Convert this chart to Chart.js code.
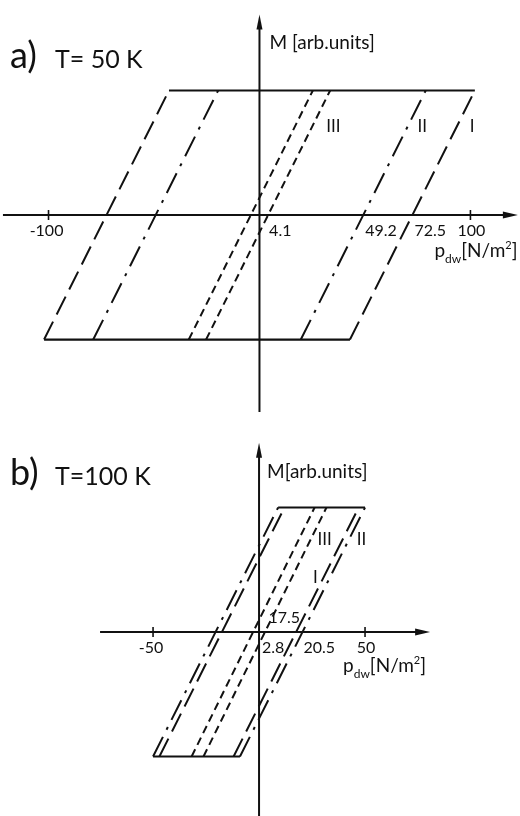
<!DOCTYPE html>
<html>
<head>
<meta charset="utf-8">
<script src="https://cdn.jsdelivr.net/npm/chart.js@4.4.1/dist/chart.umd.min.js"></script>
<style>
  html, body { margin: 0; padding: 0; background: #fff; }
  #wrap { position: relative; width: 520px; height: 816px; }
  canvas { position: absolute; left: 0; }
</style>
</head>
<body>
<div id="wrap">
  <canvas id="chartA" width="520" height="412" style="top:0"></canvas>
  <canvas id="chartB" width="520" height="404" style="top:412px"></canvas>
</div>
<script>
// loops I, II, III
const loopNames = ["I", "II", "III"];
// coercive pressure p_c [N/m^2]
const coercA = [72.5, 49.2, 4.1];   // T = 50 K
const coercB = [17.5, 20.5, 2.8];   // T = 100 K
// half width (in p) of the switching branch [N/m^2]
const branchA = [29.6, 29.6, 29.4];
const branchB = [29.5, 29.5, 29.0];
const mSat = 1;
const ticksA = [-100, 100];
const ticksB = [-50, 50];

const ink = "#111";
const dashes = [[20, 8], [22, 8, 3, 8], [8, 5]];

function loopDatasets(coerc, branch) {
  let sets = [];
  coerc.forEach((pc, i) => {
    let w = branch[i];
    sets.push({
      label: loopNames[i],
      data: [
        {x: -pc - w, y: -mSat}, {x: -pc + w, y: mSat},
        {x: 0, y: null},
        {x: pc - w, y: -mSat}, {x: pc + w, y: mSat}
      ],
      borderColor: ink,
      borderWidth: 2,
      borderDash: dashes[i],
      borderCapStyle: "butt",
      showLine: true,
      spanGaps: false,
      pointRadius: 0
    });
  });
  // saturation lines (solid)
  let topL = Math.min(...coerc.map((pc, i) => -pc + branch[i]));
  let topR = Math.max(...coerc.map((pc, i) => pc + branch[i]));
  sets.push({
    label: "sat",
    data: [
      {x: topL, y: mSat}, {x: topR, y: mSat},
      {x: 0, y: null},
      {x: -topR, y: -mSat}, {x: -topL, y: -mSat}
    ],
    borderColor: ink,
    borderWidth: 2.2,
    showLine: true,
    spanGaps: false,
    pointRadius: 0
  });
  return sets;
}

const framePlugin = {
  id: "frame",
  afterDraw(chart, args, o) {
    const ctx = chart.ctx;
    const xs = chart.scales.x, ys = chart.scales.y;
    const X = v => xs.getPixelForValue(v);
    const Y = v => ys.getPixelForValue(v);
    const x0 = X(0), y0 = Y(0);
    ctx.save();
    ctx.strokeStyle = ink;
    ctx.fillStyle = ink;
    ctx.lineWidth = 2;

    // x axis with arrow
    let xe = X(o.xAxis[1]);
    ctx.beginPath();
    ctx.moveTo(X(o.xAxis[0]), y0);
    ctx.lineTo(xe - 8, y0);
    ctx.stroke();
    ctx.beginPath();
    ctx.moveTo(xe, y0);
    ctx.lineTo(xe - 15, y0 - 3.5);
    ctx.lineTo(xe - 15, y0 + 3.5);
    ctx.closePath();
    ctx.fill();

    // y axis with arrow
    let ye = Y(o.yAxis[1]);
    ctx.beginPath();
    ctx.moveTo(x0, Y(o.yAxis[0]));
    ctx.lineTo(x0, ye + 8);
    ctx.stroke();
    ctx.beginPath();
    ctx.moveTo(x0, ye);
    ctx.lineTo(x0 - 3, ye + 15);
    ctx.lineTo(x0 + 3, ye + 15);
    ctx.closePath();
    ctx.fill();

    // ticks
    ctx.font = "16px Lato";
    ctx.textBaseline = "middle";
    ctx.textAlign = "center";
    ctx.lineWidth = 1.6;
    o.ticks.forEach(t => {
      ctx.beginPath();
      ctx.moveTo(X(t), y0 - 5);
      ctx.lineTo(X(t), y0 + 5);
      ctx.stroke();
      ctx.fillText(t < 0 ? "-" + Math.abs(t) : String(t), X(t) + (t < 0 ? -2 : 1), y0 + 16);
    });

    // coercive pressure labels
    o.coerc.forEach((pc, i) => {
      let p = o.coercPos[i];
      ctx.textAlign = p[2];
      ctx.fillText(String(pc), X(pc) + p[0], y0 + p[1]);
    });

    // loop numbers next to the rising branches
    ctx.font = "17px Lato";
    o.roman.forEach((r, i) => {
      let xb = o.coerc[i] + r[0] * o.branch[i];
      ctx.textAlign = r[2];
      ctx.fillText(loopNames[i], X(xb) + r[1], Y(r[0]));
    });

    // axis titles
    ctx.textBaseline = "alphabetic";
    ctx.textAlign = "left";
    ctx.font = "19px Lato";
    ctx.fillText(o.mTitle, x0 + o.mPos[0], y0 + o.mPos[1]);

    let px = x0 + o.pPos[0], py = y0 + o.pPos[1];
    ctx.font = "19px Lato";
    ctx.fillText("p", px, py);
    px += ctx.measureText("p").width;
    ctx.font = "12px Lato";
    ctx.fillText("dw", px, py + 6);
    px += ctx.measureText("dw").width;
    ctx.font = "19px Lato";
    ctx.fillText("[N/m", px, py);
    px += ctx.measureText("[N/m").width;
    ctx.font = "11px Lato";
    ctx.fillText("2", px, py - 8);
    px += ctx.measureText("2").width;
    ctx.font = "19px Lato";
    ctx.fillText("]", px, py);

    // panel title
    ctx.font = "36px Lato";
    ctx.fillText(o.panel, 10, o.titleY);
    ctx.font = "25px Lato";
    ctx.fillText(o.temp, 55, o.titleY);
    ctx.restore();
  }
};

function makeChart(id, coerc, branch, ticks, scaleX, scaleY, frame) {
  return new Chart(document.getElementById(id), {
    type: "scatter",
    data: { datasets: loopDatasets(coerc, branch) },
    options: {
      responsive: false,
      animation: false,
      layout: { padding: 0 },
      plugins: {
        legend: { display: false },
        tooltip: { enabled: false },
        frame: Object.assign({ coerc: coerc, branch: branch, ticks: ticks }, frame)
      },
      scales: {
        x: { type: "linear", min: scaleX[0], max: scaleX[1], display: false },
        y: { type: "linear", min: scaleY[0], max: scaleY[1], display: false }
      }
    },
    plugins: [framePlugin]
  });
}

makeChart("chartA", coercA, branchA, ticksA, [-123.0, 123.5], [-1.582, 1.727], {
  xAxis: [-121.6, 122.5],
  yAxis: [-1.7, 1.61],
  coercPos: [[2, 16, "left"], [2, 16, "left"], [1, 16, "left"]],
  roman: [[0.71, 13, "left"], [0.71, 10, "left"], [0.71, 14, "left"]],
  mTitle: "M [arb.units]",
  mPos: [10, -166],
  pPos: [175, 42],
  panel: "a)",
  temp: "T= 50 K",
  titleY: 68
});

makeChart("chartB", coercB, branchB, ticksB, [-122.2, 123.1], [-1.478, 1.767], {
  xAxis: [-75, 80.7],
  yAxis: [-1.6, 1.52],
  coercPos: [[4, -14, "right"], [1, 16, "left"], [-3, 16, "left"]],
  roman: [[0.44, -6, "right"], [0.74, 8, "left"], [0.74, 7, "left"]],
  mTitle: "M[arb.units]",
  mPos: [8, -154],
  pPos: [84, 40],
  panel: "b)",
  temp: "T=100 K",
  titleY: 73
});
</script>
</body>
</html>
